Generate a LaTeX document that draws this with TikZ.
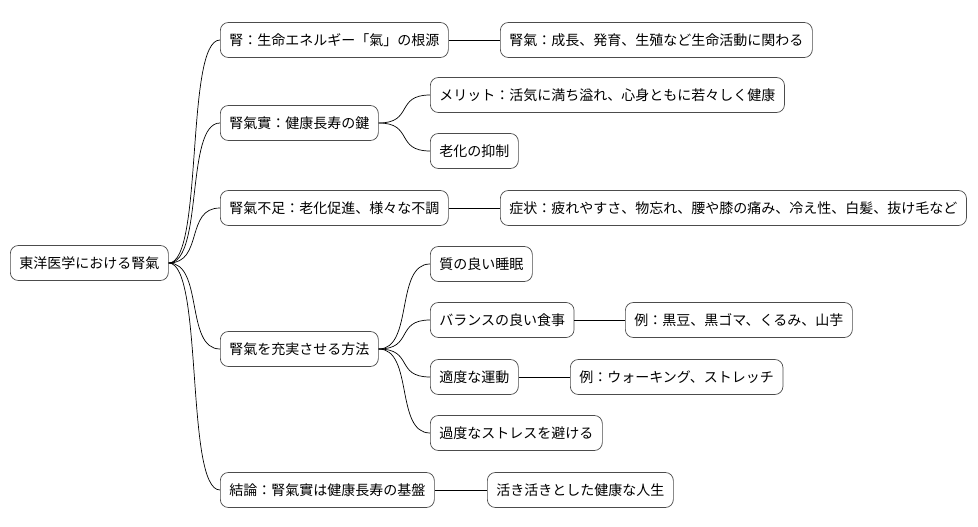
\documentclass[tikz,border=0pt]{standalone}
\usepackage{fontspec}
\setmainfont{Noto Sans CJK JP}
\usetikzlibrary{positioning}
\tikzset{
  topic/.style={draw=black!70, line width=0.7pt, rounded corners=8pt, fill=white,
    minimum height=35pt, inner xsep=9pt, anchor=west, font=\fontsize{14}{16}\selectfont},
  branch/.style={draw=black, line width=0.7pt},
}
\begin{document}
\begin{tikzpicture}[x=1pt, y=-1pt]
  \useasboundingbox (0,0) rectangle (978,527);

  % root
  \node[topic] (root) at (10,263) {東洋医学における腎氣};

  % first level
  \node[topic] (kid)   at (220,40)  {腎：生命エネルギー「氣」の根源};
  \node[topic] (jitsu) at (220,123) {腎氣實：健康長寿の鍵};
  \node[topic] (lack)  at (220,208) {腎氣不足：老化促進、様々な不調};
  \node[topic] (way)   at (220,349) {腎氣を充実させる方法};
  \node[topic] (end)   at (220,490) {結論：腎氣實は健康長寿の基盤};

  % second level
  \node[topic] (life)  at (500,40)  {腎氣：成長、発育、生殖など生命活動に関わる};
  \node[topic] (merit) at (430,95)  {メリット：活気に満ち溢れ、心身ともに若々しく健康};
  \node[topic] (aging) at (430,151) {老化の抑制};
  \node[topic] (sympt) at (500,208) {症状：疲れやすさ、物忘れ、腰や膝の痛み、冷え性、白髪、抜け毛など};
  \node[topic] (sleep) at (430,264) {質の良い睡眠};
  \node[topic] (food)  at (430,320) {バランスの良い食事};
  \node[topic] (move)  at (430,377) {適度な運動};
  \node[topic] (calm)  at (430,433) {過度なストレスを避ける};
  \node[topic] (vital) at (487,490) {活き活きとした健康な人生};

  % third level
  \node[topic] (foodex) at (625,320) {例：黒豆、黒ゴマ、くるみ、山芋};
  \node[topic] (moveex) at (570,377) {例：ウォーキング、ストレッチ};

  % connectors
  \foreach \c in {kid, jitsu, lack, way, end}
    \draw[branch] (root.east) .. controls +(35,0) and +(-35,0) .. (\c.west);
  \foreach \c in {merit, aging}
    \draw[branch] (jitsu.east) .. controls +(35,0) and +(-35,0) .. (\c.west);
  \foreach \c in {sleep, food, move, calm}
    \draw[branch] (way.east) .. controls +(35,0) and +(-35,0) .. (\c.west);
  \draw[branch] (kid) -- (life);
  \draw[branch] (lack) -- (sympt);
  \draw[branch] (end) -- (vital);
  \draw[branch] (food) -- (foodex);
  \draw[branch] (move) -- (moveex);
\end{tikzpicture}
\end{document}
